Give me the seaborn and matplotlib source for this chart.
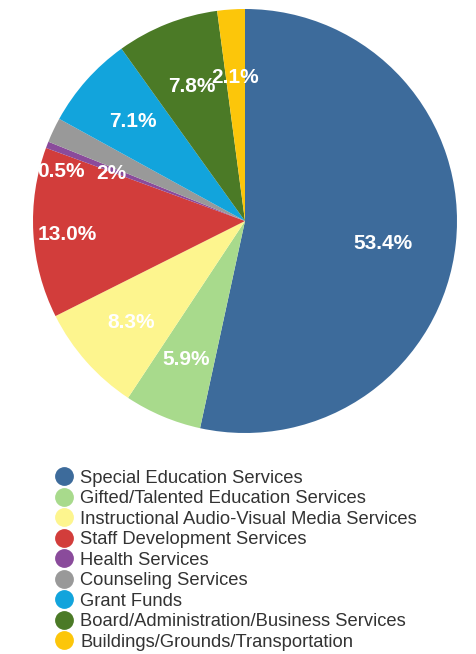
import matplotlib
matplotlib.use("Agg")
import matplotlib.pyplot as plt
from matplotlib.lines import Line2D
import numpy as np
import seaborn as sns

categories = ['Special Education Services', 'Gifted/Talented Education Services',
              'Instructional Audio-Visual Media Services', 'Staff Development Services',
              'Health Services', 'Counseling Services', 'Grant Funds',
              'Board/Administration/Business Services', 'Buildings/Grounds/Transportation']
shares = [53.4, 5.9, 8.3, 13.0, 0.5, 1.9, 7.1, 7.8, 2.1]
pct_labels = ['53.4%', '5.9%', '8.3%', '13.0%', '0.5%', '2%', '7.1%', '7.8%', '2.1%']
colors = ['#3d6b9b', '#a8da8c', '#fdf58e', '#d23d3b', '#8a4b9b',
          '#999999', '#12a4dc', '#4b7a26', '#fcc60a']

sns.set_theme(style='white')
plt.rcParams['font.family'] = ['Liberation Sans', 'DejaVu Sans']
palette = sns.color_palette(colors)

fig = plt.figure(figsize=(4.76, 6.54), dpi=100)
ax = fig.add_axes([33 / 476, (654 - 433) / 654, 424 / 476, 424 / 654])

wedges, _ = ax.pie(shares, colors=palette, startangle=90, counterclock=False,
                   wedgeprops=dict(edgecolor='none', linewidth=0))
ax.set_xlim(-1, 1)
ax.set_ylim(-1, 1)
ax.set_aspect('equal')

# label radius / angle nudge per slice (the original crowds some labels)
dist = [0.66, 0.71, 0.72, 0.84, 0.90, 0.67, 0.71, 0.68, 0.68]
nudge = [-3, 0, 0, 1, 6, 6, 0, 0, 0]
order = [0, 1, 2, 3, 5, 4, 6, 7, 8]
for i in order:
    w = wedges[i]
    ang = np.deg2rad((w.theta1 + w.theta2) / 2 + nudge[i])
    ax.text(dist[i] * np.cos(ang), dist[i] * np.sin(ang), pct_labels[i],
            ha='center', va='center', color='white', fontsize=15,
            fontweight='bold')

handles = [Line2D([], [], marker='o', linestyle='', markersize=12.5,
                  markerfacecolor=c, markeredgecolor=c) for c in palette]
fig.legend(handles, categories, loc='upper left', bbox_to_anchor=(0.099, 0.293),
           frameon=False, fontsize=13.2, labelspacing=0.19, handletextpad=0.4,
           handlelength=1.0, borderaxespad=0, labelcolor='#333333')

fig.savefig('out.png', dpi=100, facecolor='white')
